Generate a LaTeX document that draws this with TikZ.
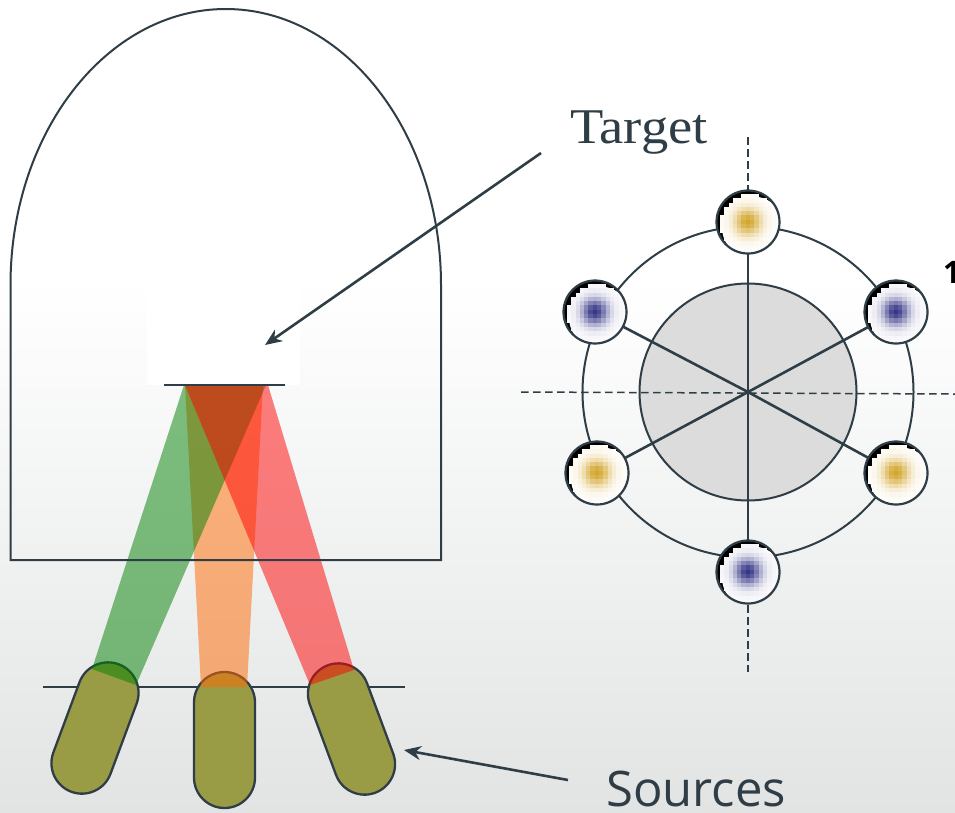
\documentclass[tikz,border=0pt]{standalone}
\usepackage{fontspec}
\usetikzlibrary{arrows.meta,shapes.misc}
\newfontfamily\targetfont[FakeStretch=1.09]{Liberation Serif}
\newfontfamily\sourcefont{Open Sans}
\definecolor{ink}{HTML}{2F3E46}
\definecolor{olive}{HTML}{9A9C45}
\definecolor{gold}{HTML}{D0A020}
\definecolor{navy}{HTML}{2A2A80}
\definecolor{hubgray}{HTML}{DCDCDC}
\definecolor{bgbottom}{HTML}{E2E4E4}
\definecolor{beamgreen}{RGB}{0,128,0}
\definecolor{beamorange}{RGB}{255,104,0}
\definecolor{beamred}{RGB}{255,0,0}
\tikzset{
  outline/.style={draw=ink,line width=2pt},
  axisline/.style={draw=ink,line width=1.5pt,dash pattern=on 7.5pt off 4.5pt},
  spoke/.style={draw=ink,line width=2.6pt},
  capsule/.style={rounded rectangle,draw=ink,line width=2.3pt,fill=olive,minimum width=136pt,minimum height=61pt,inner sep=0pt,outer sep=0pt},
  sat/.style={circle,draw=ink,line width=2.2pt,minimum size=63pt,inner sep=0pt,outer sep=0pt},
  beam/.style={fill opacity=.5},
  pointer/.style={draw=ink,line width=2.6pt,-{Stealth[length=17pt,width=14pt]}},
  label/.style={text=ink,inner sep=0pt,anchor=base west}
}
\newcommand\blob[3]{%
  \begin{scope}
    \clip (#1,#2) circle[radius=31];
    \fill[black] (#1,#2) circle[radius=31];
    \fill[white] (#1+5,#2+5.5) circle[radius=31];
    \foreach \i in {-7,...,7}{\foreach \j in {-7,...,7}{%
      \pgfmathsetmacro\p{2+92*exp(-(\i*\i+\j*\j)/9.5)}
      \pgfmathparse{((\i*4.3-2)*(\i*4.3-2)+(\j*4.3-2.5)*(\j*4.3-2.5))<(29.5*29.5)?1:0}
      \ifnum\pgfmathresult=1
        \fill[fill={#3!\p!white}] (#1+\i*4.3-2.25,#2+\j*4.3-2.25) rectangle ++(4.5,4.5);
      \fi
    }}
  \end{scope}}
\begin{document}
\begin{tikzpicture}[x=1pt,y=1pt,yscale=-1]
\useasboundingbox (0,0) rectangle (955,812);
% background
\fill[white] (0,0) rectangle (955,281);
\shade[top color=white,bottom color=bgbottom] (0,280) rectangle (955,812);
\fill[white] (147,280) rectangle (300,385);
% base line and sources
\coordinate (baseL) at (43,687);
\coordinate (baseR) at (405,687);
\draw[outline] (baseL) -- (baseR);
\node[capsule,rotate=69.6] (srcL) at (95,728) {};
\node[capsule,rotate=90] (srcM) at (224.5,740) {};
\node[capsule,rotate=110.4] (srcR) at (351.5,729) {};
% beams
\fill[beamorange,beam] (185,385) -- (263,385) -- (247,687) -- (201,687) -- cycle;
\fill[beamgreen,beam] (184,385) -- (266,385) -- (136,685) -- (92,669) -- cycle;
\fill[beamred,beam] (185,385) -- (268,385) -- (354,670) -- (310,685) -- cycle;
% chamber
\draw[outline,line join=miter] (10.5,285) arc[start angle=180,end angle=360,x radius=215.25,y radius=276] -- (441,560) -- (10.5,560) -- cycle;
\coordinate (tgtL) at (164,385);
\coordinate (tgtR) at (285,385);
\draw[outline,line width=2.2pt] (tgtL) -- (tgtR);
% wheel
\coordinate (hub) at (748,392);
\coordinate (vTop) at (748,137);
\coordinate (vBot) at (748,672);
\coordinate (hL) at (521,392);
\coordinate (hR) at (955,394);
\draw[outline] (hub) circle[radius=165.5];
\draw[outline,fill=hubgray] (hub) circle[radius=108.5];
\draw[axisline] (vTop) -- (vBot);
\draw[axisline] (hL) -- (hR);
\blob{748}{222}{gold}
\blob{595}{312}{navy}
\blob{896}{312}{navy}
\blob{597}{473}{gold}
\blob{896}{473}{gold}
\blob{748}{572}{navy}
\node[sat] (s1) at (748,222) {};
\node[sat] (s2) at (595,312) {};
\node[sat] (s3) at (896,312) {};
\node[sat] (s4) at (597,473) {};
\node[sat] (s5) at (896,473) {};
\node[sat] (s6) at (748,572) {};
\foreach \s in {s1,s2,s3,s4,s5,s6}{\draw[spoke] (hub) -- (\s);}
% labels
\node[label,font=\targetfont\fontsize{50}{50}\selectfont] (target) at (570,143) {Target};
\node[label,font=\sourcefont\fontsize{49}{49}\selectfont] (sources) at (606,806) {Sources};
\node[inner sep=0pt,anchor=base west,text=black,font=\sourcefont\bfseries\fontsize{31}{31}\selectfont] (cut) at (943,283) {1};
% pointers
\coordinate (tgtFrom) at (541,153);
\coordinate (tgtTo) at (265,345);
\coordinate (srcFrom) at (568,780);
\coordinate (srcTo) at (404,750);
\draw[pointer] (tgtFrom) -- (tgtTo);
\draw[pointer] (srcFrom) -- (srcTo);
\end{tikzpicture}
\end{document}
